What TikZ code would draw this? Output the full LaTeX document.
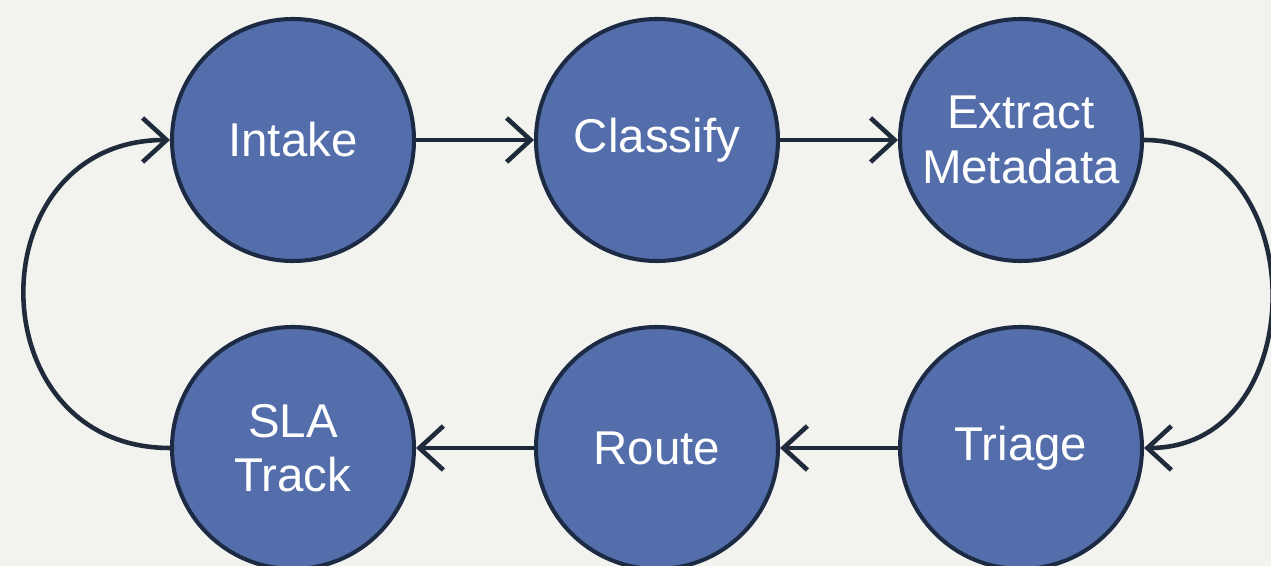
\documentclass[tikz,border=0pt]{standalone}
\usepackage{fontspec}
\setmainfont{Liberation Sans}
\usetikzlibrary{automata, positioning, arrows.meta}
\definecolor{stepfill}{HTML}{536EAA}
\definecolor{stepline}{HTML}{1C2A44}
\definecolor{flowline}{HTML}{1F2A3A}
\definecolor{paper}{HTML}{F2F2EE}
\tikzset{
  >={Straight Barb[length=0.48cm,width=0.88cm]},
  node distance=7.28cm,
  every state/.style={draw=stepline, line width=2.3pt, fill=stepfill,
    minimum size=4.84cm, inner sep=0pt, text=white, align=center,
    font=\fontsize{27}{31}\selectfont},
  flow/.style={->, draw=flowline, line width=2.6pt},
}

\begin{document}
\begin{tikzpicture}
      \fill[paper] (-5.86,2.8) rectangle (19.56,-8.52);
      \useasboundingbox (-5.86,2.8) rectangle (19.56,-8.52);

      \node[state]                                 (intake)   {Intake};
      \node[state,right of=intake]                 (classify) {Classify};
      \node[state,right of=classify]               (extract)  {Extract\\Metadata};
      \node[state,below of=intake,node distance=6.16cm] (sla) {SLA\\Track};
      \node[state,right of=sla]                    (route)    {Route};
      \node[state,right of=route]                  (triage)   {Triage};

      \draw[flow] (intake)   edge                               (classify)
                  (classify) edge                               (extract)
                  (extract)  edge[out=0,in=0,looseness=1.42]     (triage)
                  (triage)   edge                               (route)
                  (route)    edge                               (sla)
                  (sla)      edge[out=180,in=180,looseness=1.62] (intake);
    \end{tikzpicture}
\end{document}
